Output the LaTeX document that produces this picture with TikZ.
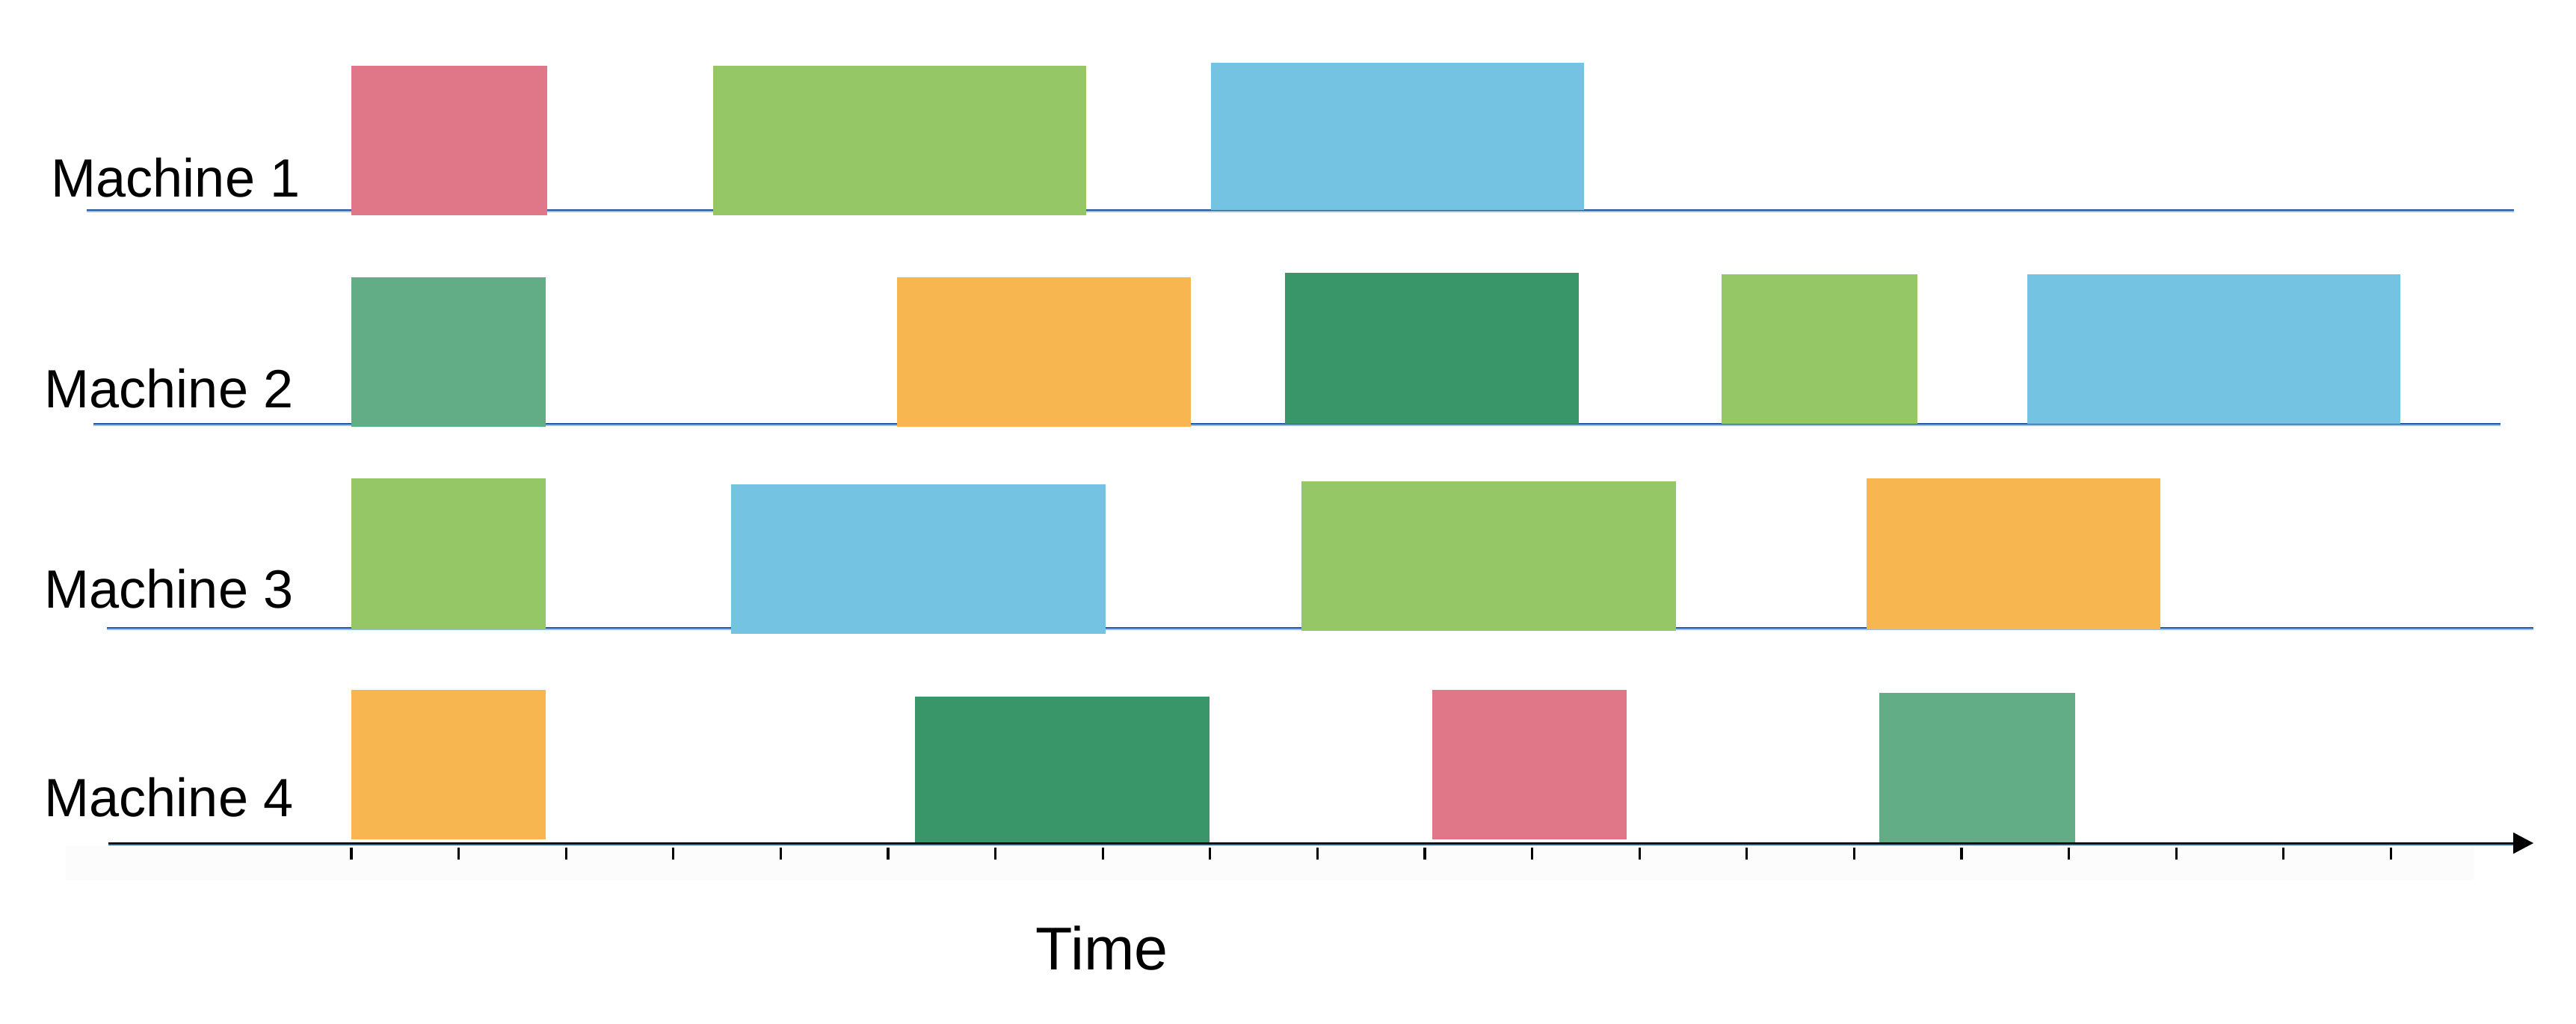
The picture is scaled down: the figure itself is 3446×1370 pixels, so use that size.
\documentclass[tikz,border=0pt]{standalone}
\usepackage{fontspec}
\setmainfont{Liberation Sans}
\usetikzlibrary{arrows.meta}
\definecolor{cpink}{RGB}{224,119,137}
\definecolor{clgreen}{RGB}{150,199,102}
\definecolor{clblue}{RGB}{117,195,226}
\definecolor{cteal}{RGB}{98,173,134}
\definecolor{corange}{RGB}{247,182,80}
\definecolor{cdgreen}{RGB}{56,150,104}
\definecolor{cline}{RGB}{36,88,160}
\definecolor{clineb}{RGB}{150,190,230}
\definecolor{caxisb}{RGB}{40,90,150}
\definecolor{cband}{RGB}{252,252,252}
\tikzset{
  lbl/.style={anchor=base west,inner sep=0pt,font=\fontsize{20.5}{24}\selectfont},
  tlbl/.style={anchor=base west,inner sep=0pt,font=\fontsize{23}{27}\selectfont},
  mline/.style={draw=cline,line width=0.6pt},
  mlineb/.style={draw=clineb,line width=0.4pt},
  axisline/.style={draw=black,line width=0.7pt,-{Triangle[length=0.27cm,width=0.28cm]}},
  axislineb/.style={draw=caxisb,line width=0.4pt},
  tick/.style={draw=black,line width=0.9pt},
}
\begin{document}
\begin{tikzpicture}[x=0.01cm,y=-0.01cm]
\useasboundingbox (0,0) rectangle (3446,1370);
% faint band behind ticks
\fill[cband] (88,1132) rectangle (3310,1178);
% machine lines
\coordinate (l1a) at (116,281); \coordinate (l1b) at (3363,281);
\coordinate (l2a) at (125,567); \coordinate (l2b) at (3345,567);
\coordinate (l3a) at (143,840); \coordinate (l3b) at (3389,840);
\draw[mlineb] ([yshift=-0.6pt]l1a) -- ([yshift=-0.6pt]l1b);
\draw[mlineb] ([yshift=-0.6pt]l2a) -- ([yshift=-0.6pt]l2b);
\draw[mlineb] ([yshift=-0.6pt]l3a) -- ([yshift=-0.6pt]l3b);
\draw[mline] (l1a) -- (l1b);
\draw[mline] (l2a) -- (l2b);
\draw[mline] (l3a) -- (l3b);
% Machine 1
\fill[cpink]   (470,88) rectangle (732,288);
\fill[clgreen] (954,88) rectangle (1453,288);
\fill[clblue]  (1620,84) rectangle (2119,281);
% Machine 2
\fill[cteal]   (470,371) rectangle (730,571);
\fill[corange] (1200,371) rectangle (1593,571);
\fill[cdgreen] (1719,365) rectangle (2112,567);
\fill[clgreen] (2303,367) rectangle (2565,567);
\fill[clblue]  (2712,367) rectangle (3211,567);
% Machine 3
\fill[clgreen] (470,640) rectangle (730,842);
\fill[clblue]  (978,648) rectangle (1479,848);
\fill[clgreen] (1741,644) rectangle (2242,844);
\fill[corange] (2497,640) rectangle (2890,842);
% Machine 4
\fill[corange] (470,923) rectangle (730,1123);
\fill[cdgreen] (1224,932) rectangle (1618,1130);
\fill[cpink]   (1916,923) rectangle (2176,1123);
\fill[cteal]   (2514,927) rectangle (2776,1130);
% axis
\coordinate (axa) at (145,1128); \coordinate (axb) at (3389,1128);
\coordinate (axbb) at (3362,1128);
\draw[axislineb] ([yshift=-0.55pt]axa) -- ([yshift=-0.55pt]axbb);
\draw[axisline] (axa) -- (axb);
\foreach \i in {0,...,19}{
  \draw[tick] ({470+\i*143.6},1134) -- ({470+\i*143.6},1150);
}
% labels
\node[lbl] (m1) at (68,264) {Machine 1};
\node[lbl] (m2) at (59,545) {Machine 2};
\node[lbl] (m3) at (59,813) {Machine 3};
\node[lbl] (m4) at (59,1092) {Machine 4};
\node[tlbl] (time) at (1385,1297) {Time};
\end{tikzpicture}
\end{document}
